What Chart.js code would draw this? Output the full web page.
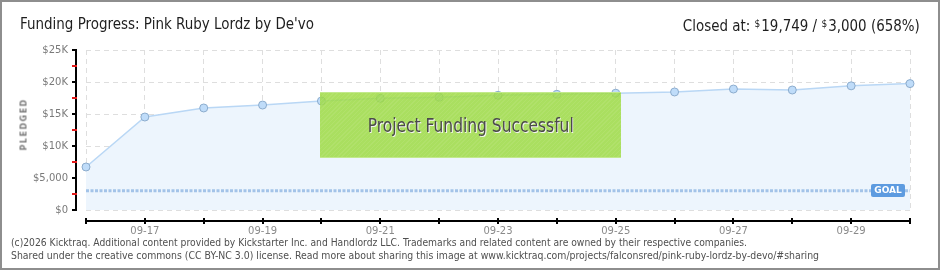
<!DOCTYPE html>
<html>
<head>
<meta charset="utf-8">
<script src="https://cdn.jsdelivr.net/npm/chart.js"></script>
<style>
  html, body { margin: 0; padding: 0; background: #fff; }
  #wrap {
    position: relative; width: 940px; height: 270px;
    box-sizing: border-box; border: 2px solid #8e8e8e; overflow: hidden;
  }
  #chart { position: absolute; left: -2px; top: -2px; }
  .txt { position: absolute; white-space: nowrap; }
  #title {
    left: 18px; top: 14px; font: 15px "Liberation Sans Narrow", "DejaVu Sans Condensed", sans-serif;
    color: #1e1e1e; line-height: 16px; transform-origin: left center;
  }
  #closed {
    right: 18px; top: 14px; font: 15px "Liberation Sans Narrow", "DejaVu Sans Condensed", sans-serif;
    color: #1e1e1e; line-height: 16px; transform-origin: right center;
  }
  #closed sup { font-size: 10px; vertical-align: 4px; margin-right: 1px; }
  #pledged {
    left: 2px; top: 124px; width: 40px; text-align: center;
    font: bold 8px "DejaVu Sans", sans-serif; letter-spacing: 1.5px; color: #7a7a7a;
    transform: rotate(-90deg);
  }
  .foot {
    left: 9px; font: 10px "DejaVu Sans", sans-serif; color: #4f4f4f; line-height: 12px;
    transform-origin: left center;
  }
  #banner {
    position: absolute; left: 318px; top: 90px; width: 301px; height: 66px;
    background-color: rgba(157, 218, 66, 0.84);
    background-image: repeating-linear-gradient(135deg, rgba(255,255,255,0.07) 0 1px, rgba(0,0,0,0) 1px 3px);
    border-top: 1px solid #c2e98c; border-bottom: 1px solid #c2e98c; box-sizing: border-box;
  }
  #bannerText {
    position: absolute; left: 0; width: 100%; top: 22px; text-align: center;
    font: 19px "Liberation Sans Narrow", "DejaVu Sans Condensed", sans-serif; color: #4b4b4b;
    text-shadow: 1px 1px 0 #f4f4f4; line-height: 20px;
  }
</style>
</head>
<body>
<div id="wrap">
  <canvas id="chart" width="940" height="270"></canvas>
  <div class="txt" id="title">Funding Progress: Pink Ruby Lordz by De'vo</div>
  <div class="txt" id="closed">Closed at: <sup>$</sup>19,749 / <sup>$</sup>3,000 (658%)</div>
  <div class="txt" id="pledged">PLEDGED</div>
  <div id="banner"><div class="txt" id="bannerText"><span id="bt">Project Funding Successful</span></div></div>
  <div class="txt foot" id="foot1" style="top:235px">(c)2026 Kicktraq. Additional content provided by Kickstarter Inc. and Handlordz LLC. Trademarks and related content are owned by their respective companies.</div>
  <div class="txt foot" id="foot2" style="top:248px">Shared under the creative commons (CC BY-NC 3.0) license. Read more about sharing this image at www.kicktraq.com/projects/falconsred/pink-ruby-lordz-by-devo/#sharing</div>
</div>
<script>
// data
const dates = ['09-16', '09-17', '09-18', '09-19', '09-20', '09-21', '09-22', '09-23',
               '09-24', '09-25', '09-26', '09-27', '09-28', '09-29', '09-30'];
const pledged = [6720, 14530, 15940, 16400, 17030, 17450, 17610, 17920,
                 18080, 18250, 18440, 18900, 18750, 19400, 19749];
const goal = 3000;
const yTickLabels = ['$0', '$5,000', '$10K', '$15K', '$20K', '$25K'];
const yMax = 25000;

// axis lines sit a little outside the plot, like kicktraq draws them
const kicktraqAxes = {
  id: 'kicktraqAxes',
  afterDatasetsDraw(chart) {
    const { ctx, scales: { x, y } } = chart;
    ctx.save();
    // goal tag
    const gy = Math.round(y.getPixelForValue(goal));
    const gx = x.getPixelForValue(dates.length - 1) - 39;
    ctx.fillStyle = '#5d9be0';
    ctx.beginPath();
    ctx.roundRect(gx, gy - 7, 34, 13, 2);
    ctx.fill();
    ctx.fillStyle = '#fff';
    ctx.font = 'bold 9px "DejaVu Sans", sans-serif';
    ctx.textAlign = 'center';
    ctx.textBaseline = 'middle';
    ctx.fillText('GOAL', gx + 17, gy);
    ctx.restore();
  },
  afterDraw(chart) {
    const { ctx, chartArea: a, scales: { x, y } } = chart;
    ctx.save();
    ctx.lineWidth = 2;
    // y axis
    const ax = a.left - 10;
    ctx.strokeStyle = '#000';
    ctx.beginPath();
    ctx.moveTo(ax, y.getPixelForValue(yMax));
    ctx.lineTo(ax, y.getPixelForValue(0) + 1);
    ctx.stroke();
    y.ticks.forEach(t => {
      const py = Math.round(y.getPixelForValue(t.value));
      ctx.strokeStyle = t.value % 5000 ? '#e21a1a' : '#000';
      ctx.beginPath();
      ctx.moveTo(ax - 4, py);
      ctx.lineTo(ax + 1, py);
      ctx.stroke();
    });
    // x axis
    const ay = a.bottom + 11;
    ctx.strokeStyle = '#000';
    ctx.beginPath();
    ctx.moveTo(x.getPixelForValue(0) - 1, ay);
    ctx.lineTo(x.getPixelForValue(dates.length - 1) + 1, ay);
    ctx.stroke();
    dates.forEach((d, i) => {
      const px = Math.round(x.getPixelForValue(i));
      ctx.beginPath();
      ctx.moveTo(px, ay - 3);
      ctx.lineTo(px, ay + 3);
      ctx.stroke();
    });
    ctx.restore();
  }
};

new Chart(document.getElementById('chart'), {
  type: 'line',
  data: {
    labels: dates,
    datasets: [{
      data: pledged,
      borderColor: '#b9d7f5',
      borderWidth: 1.5,
      backgroundColor: '#edf5fd',
      fill: 'origin',
      tension: 0,
      pointRadius: 4,
      pointBackgroundColor: '#bfdcf9',
      pointBorderColor: '#8caccd',
      pointBorderWidth: 1,
      order: 2
    }, {
      data: [{ x: dates[0], y: goal }, { x: dates[dates.length - 1], y: goal }],
      borderColor: '#a3c3e8',
      borderWidth: 3,
      borderDash: [3, 1.5],
      pointRadius: 0,
      fill: false,
      order: 1
    }]
  },
  options: {
    responsive: false,
    animation: false,
    events: [],
    layout: { padding: { top: 50, right: 30, left: 0, bottom: 0 } },
    plugins: { legend: { display: false }, tooltip: { enabled: false } },
    scales: {
      x: {
        type: 'category',
        offset: false,
        afterFit: s => { s.height = 60; },
        border: { display: false, dash: [5, 4] },
        grid: { color: '#dedede', drawTicks: false, lineWidth: 1 },
        ticks: {
          autoSkip: false, maxRotation: 0, padding: 15,
          color: '#8a8a8a', font: { family: 'DejaVu Sans', size: 10 },
          callback: (v, i) => (i % 2 ? dates[i] : '')
        }
      },
      y: {
        min: 0, max: yMax,
        afterFit: s => { s.width = 86; },
        border: { display: false, dash: [5, 4] },
        grid: {
          drawTicks: false,
          color: c => (c.tick && c.tick.value % 5000 ? 'rgba(0,0,0,0)' : '#dedede')
        },
        ticks: {
          stepSize: 2500, padding: 18,
          color: '#7a7a7a', font: { family: 'DejaVu Sans', size: 10 },
          callback: v => (v % 5000 ? '' : yTickLabels[v / 5000])
        }
      }
    }
  },
  plugins: [kicktraqAxes]
});

// squeeze text to the widths seen in the picture
function fitWidth(id, w) {
  const el = document.getElementById(id);
  el.style.transform = 'none';
  const r = el.getBoundingClientRect().width;
  el.style.transform = 'scaleX(' + (w / r) + ')';
}
function fitAll() {
  fitWidth('title', 294);
  fitWidth('closed', 237);
  fitWidth('foot1', 736);
  fitWidth('foot2', 808);
  const bt = document.getElementById('bt');
  bt.style.display = 'inline-block';
  bt.style.transform = 'none';
  const r = bt.getBoundingClientRect().width;
  bt.style.transform = 'scaleX(' + (206 / r) + ')';
}
fitAll();
document.fonts.ready.then(fitAll);
</script>
</body>
</html>
